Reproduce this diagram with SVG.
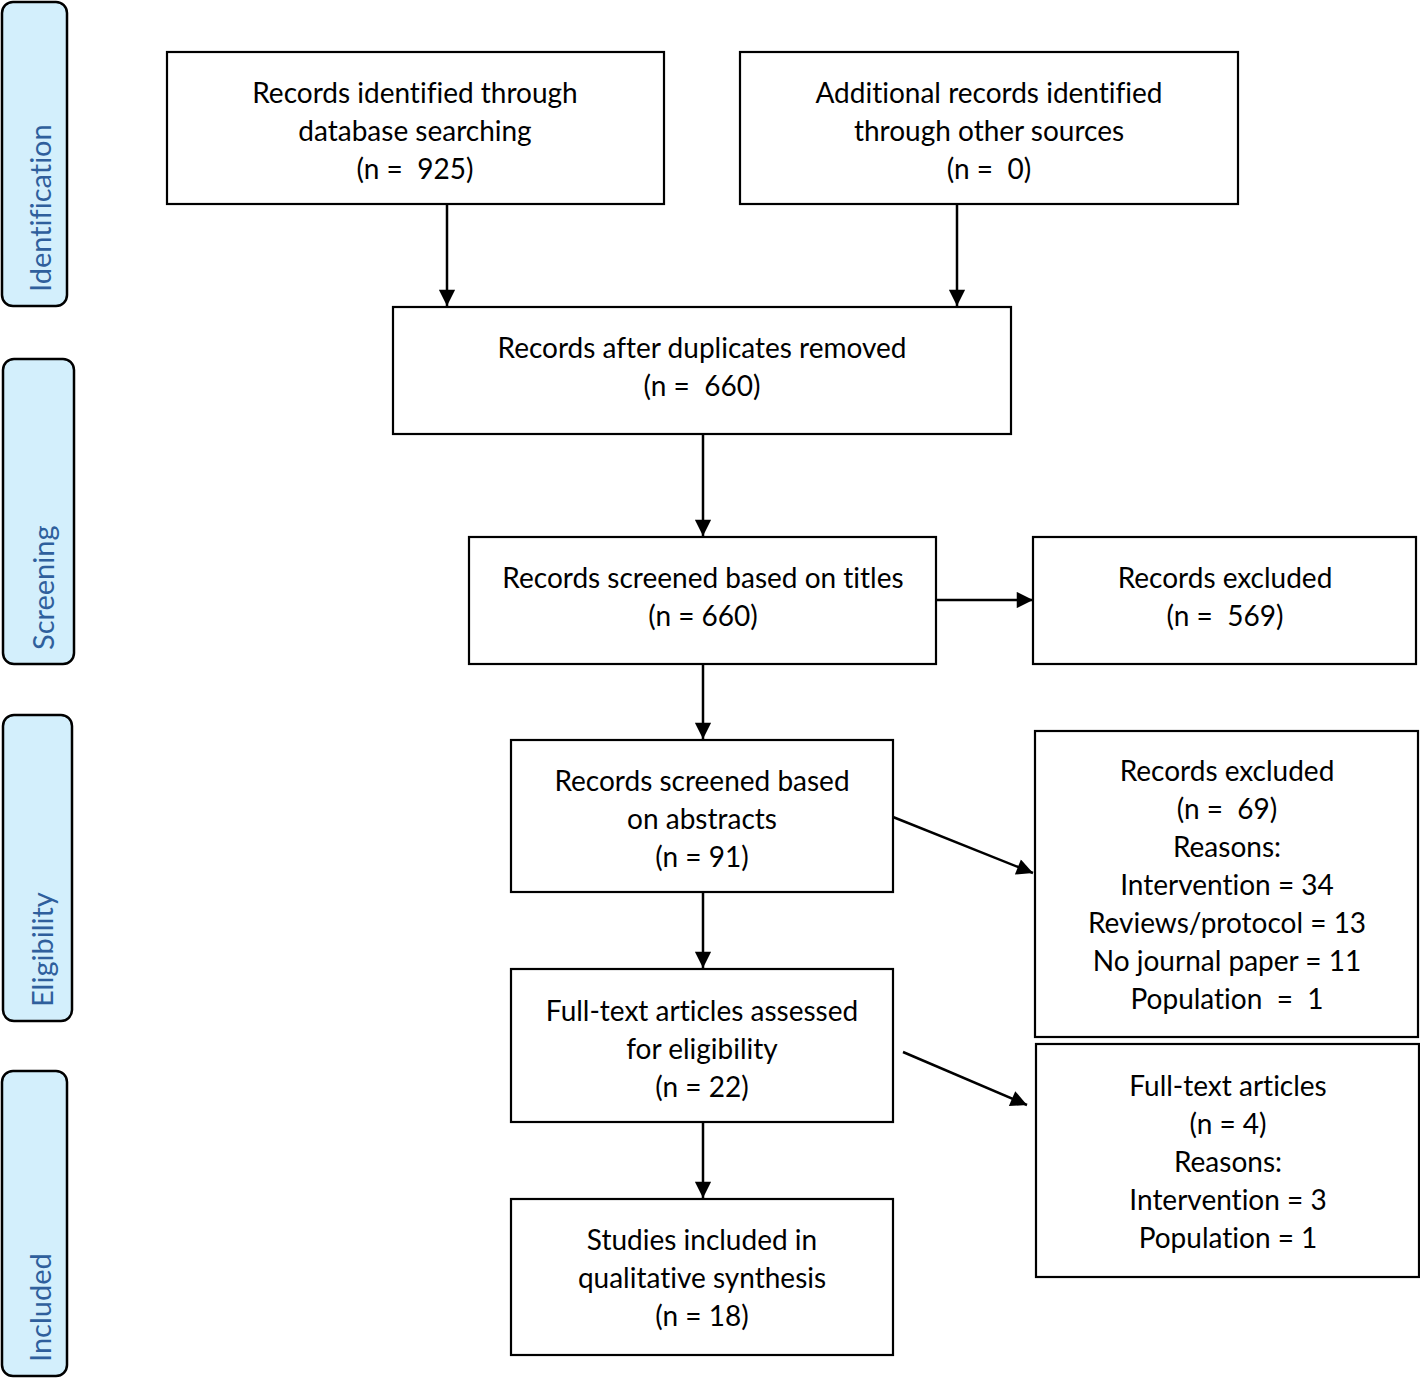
<svg xmlns="http://www.w3.org/2000/svg" width="1420" height="1378" viewBox="0 0 1420 1378">
<style>
.box{fill:#fff;stroke:#000;stroke-width:2.2}
.side{fill:#d3effc;stroke:#000;stroke-width:2.5}
.t{font-family:Lato,"Open Sans",sans-serif;font-size:28px;fill:#000;text-anchor:middle;white-space:pre;font-variant-ligatures:none}
.s{font-family:Lato,"Open Sans",sans-serif;font-size:29px;fill:#2f5f9c;text-anchor:start;font-variant-ligatures:none}
.c{stroke:#000;stroke-width:2.5;fill:none;marker-end:url(#ah)}
</style>
<defs>
<marker id="ah" viewBox="0 0 10 10" refX="10" refY="5" markerWidth="7.5" markerHeight="6.5" markerUnits="strokeWidth" orient="auto">
<path d="M0,0 L10,5 L0,10 z" fill="#000"/>
</marker>
</defs>
<rect width="1420" height="1378" fill="#fff"/>
<g id="side-identification"><rect class="side" x="2" y="2" width="65" height="304" rx="11"/><text class="s" transform="translate(51,292) rotate(-90)">Identification</text></g>
<g id="side-screening"><rect class="side" x="3" y="359" width="71" height="305" rx="11"/><text class="s" transform="translate(54,650) rotate(-90)">Screening</text></g>
<g id="side-eligibility"><rect class="side" x="3" y="715" width="69" height="306" rx="11"/><text class="s" transform="translate(53,1007) rotate(-90)">Eligibility</text></g>
<g id="side-included"><rect class="side" x="2" y="1071" width="65" height="305" rx="11"/><text class="s" transform="translate(51,1362) rotate(-90)">Included</text></g>

<g id="n1"><rect class="box" x="167" y="52" width="497" height="152"/><text class="t" x="415" y="103">Records identified through</text><text class="t" x="415" y="141">database searching</text><text class="t" x="415" y="179" xml:space="preserve">(n =  925)</text></g>
<g id="n2"><rect class="box" x="740" y="52" width="498" height="152"/><text class="t" x="989" y="103">Additional records identified</text><text class="t" x="989" y="141">through other sources</text><text class="t" x="989" y="179" xml:space="preserve">(n =  0)</text></g>
<g id="n3"><rect class="box" x="393" y="307" width="618" height="127"/><text class="t" x="702" y="358">Records after duplicates removed</text><text class="t" x="702" y="396" xml:space="preserve">(n =  660)</text></g>
<g id="n4"><rect class="box" x="469" y="537" width="467" height="127"/><text class="t" x="703" y="588">Records screened based on titles</text><text class="t" x="703" y="626">(n = 660)</text></g>
<g id="n5"><rect class="box" x="1033" y="537" width="383" height="127"/><text class="t" x="1225" y="588">Records excluded</text><text class="t" x="1225" y="626" xml:space="preserve">(n =  569)</text></g>
<g id="n6"><rect class="box" x="511" y="740" width="382" height="152"/><text class="t" x="702" y="791">Records screened based</text><text class="t" x="702" y="829">on abstracts</text><text class="t" x="702" y="867">(n = 91)</text></g>
<g id="n7"><rect class="box" x="1035" y="731" width="383" height="306"/><text class="t" x="1227" y="781">Records excluded</text><text class="t" x="1227" y="819" xml:space="preserve">(n =  69)</text><text class="t" x="1227" y="857">Reasons:</text><text class="t" x="1227" y="895">Intervention = 34</text><text class="t" x="1227" y="933">Reviews/protocol = 13</text><text class="t" x="1227" y="971">No journal paper = 11</text><text class="t" x="1227" y="1009" xml:space="preserve">Population  =  1</text></g>
<g id="n8"><rect class="box" x="511" y="969" width="382" height="153"/><text class="t" x="702" y="1021">Full-text articles assessed</text><text class="t" x="702" y="1059">for eligibility</text><text class="t" x="702" y="1097">(n = 22)</text></g>
<g id="n9"><rect class="box" x="1036" y="1044" width="383" height="233"/><text class="t" x="1228" y="1096">Full-text articles</text><text class="t" x="1228" y="1134">(n = 4)</text><text class="t" x="1228" y="1172">Reasons:</text><text class="t" x="1228" y="1210">Intervention = 3</text><text class="t" x="1228" y="1248">Population = 1</text></g>
<g id="n10"><rect class="box" x="511" y="1199" width="382" height="156"/><text class="t" x="702" y="1250">Studies included in</text><text class="t" x="702" y="1288">qualitative synthesis</text><text class="t" x="702" y="1326">(n = 18)</text></g>

<g id="connectors">
<line class="c" x1="447" y1="204" x2="447" y2="306"/>
<line class="c" x1="957" y1="204" x2="957" y2="306"/>
<line class="c" x1="703" y1="434" x2="703" y2="536"/>
<line class="c" x1="703" y1="664" x2="703" y2="739"/>
<line class="c" x1="936" y1="600" x2="1033" y2="600"/>
<line class="c" x1="893" y1="817" x2="1033" y2="873"/>
<line class="c" x1="703" y1="892" x2="703" y2="968"/>
<line class="c" x1="903" y1="1052" x2="1027" y2="1105"/>
<line class="c" x1="703" y1="1122" x2="703" y2="1198"/>
</g>
</svg>
